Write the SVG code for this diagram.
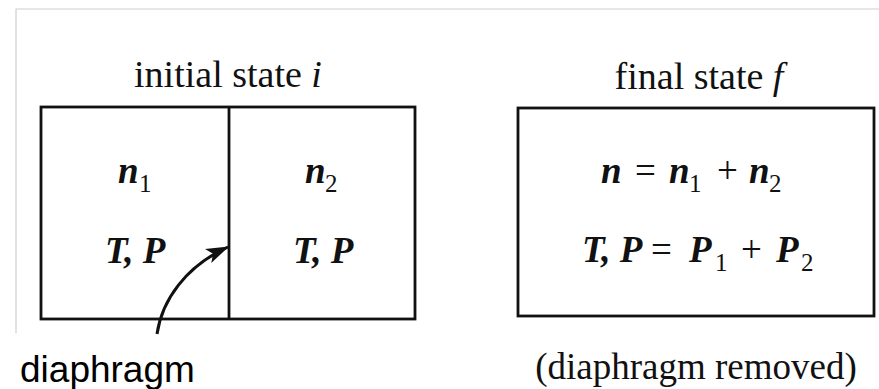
<svg xmlns="http://www.w3.org/2000/svg" width="879" height="389" viewBox="0 0 879 389">
<defs>
<style>
.frame{stroke:#cfcfcf;stroke-width:1.2;fill:none}
.box{fill:none;stroke:#111;stroke-width:2.8}
.ttl{font-family:"Liberation Serif","Times New Roman",serif;font-size:38px;fill:#111}
.m{font-family:"Liberation Serif","Times New Roman",serif;font-size:37px;font-style:italic;font-weight:bold;fill:#111}
.op{font-family:"Liberation Serif","Times New Roman",serif;font-size:37px;fill:#111}
.sub{font-family:"Liberation Serif","Times New Roman",serif;font-size:25px;fill:#111}
.sans{font-family:"Liberation Sans",Arial,sans-serif;font-size:37px;fill:#000}
.cap{font-family:"Liberation Serif","Times New Roman",serif;font-size:37px;fill:#111}
.conn{fill:none;stroke:#111;stroke-width:3}
</style>
<marker id="ah" markerUnits="userSpaceOnUse" markerWidth="24" markerHeight="16" viewBox="0 0 22 14" refX="20" refY="7" orient="auto">
<path d="M0,0 L21,7 L0,14 L5,7 z" fill="#111"/>
</marker>
</defs>
<rect width="879" height="389" fill="#fff"/>
<path class="frame" d="M16,333 L16,9 L879,9"/>

<g id="initial-state">
<text class="ttl" x="228" y="87" text-anchor="middle">initial state <tspan font-style="italic">i</tspan></text>
<rect class="box" x="41" y="107" width="374" height="212"/>
<line class="box" x1="229" y1="107" x2="229" y2="319"/>
<text class="m" x="118" y="183">n</text>
<text class="sub" x="139" y="192">1</text>
<text class="m" x="105" y="263">T, P</text>
<text class="m" x="305" y="183">n</text>
<text class="sub" x="325" y="192">2</text>
<text class="m" x="293" y="263">T, P</text>
</g>

<g id="final-state">
<text class="ttl" x="699" y="89" text-anchor="middle">final state <tspan font-style="italic">f</tspan></text>
<rect class="box" x="518" y="108" width="356" height="208"/>
<text class="m" x="601" y="183">n</text>
<text class="op" x="635" y="183">=</text>
<text class="m" x="669" y="183">n</text>
<text class="sub" x="689" y="192">1</text>
<text class="op" x="717" y="183">+</text>
<text class="m" x="749" y="183">n</text>
<text class="sub" x="769" y="192">2</text>
<text class="m" x="582" y="262">T, P</text>
<text class="op" x="651" y="262">=</text>
<text class="m" x="689" y="262">P</text>
<text class="sub" x="715" y="271">1</text>
<text class="op" x="741" y="262">+</text>
<text class="m" x="776" y="262">P</text>
<text class="sub" x="801" y="271">2</text>
</g>

<g id="diaphragm-label">
<text class="sans" x="20" y="382">diaphragm</text>
</g>
<g id="removed-label">
<text class="cap" x="696" y="379" text-anchor="middle">(diaphragm removed)</text>
</g>

<g id="connectors">
<path class="conn" d="M157,334 C162,300 186,266 228,247" marker-end="url(#ah)"/>
</g>
</svg>
